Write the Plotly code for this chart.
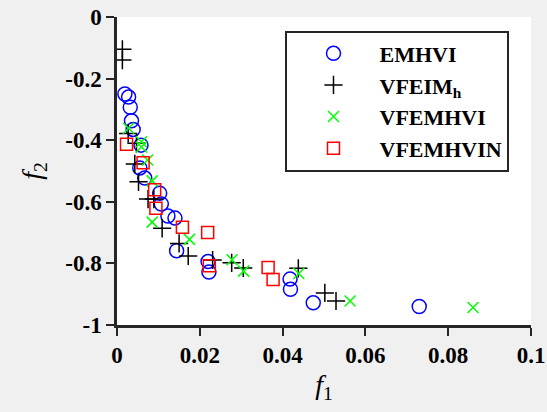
import plotly.graph_objects as go

# EMHVI (blue circles)
emhvi_f1 = [0.0019, 0.0028, 0.0032, 0.0035, 0.0039, 0.0058, 0.0055, 0.0067, 0.0103, 0.0107,
            0.0123, 0.0140, 0.0144, 0.0220, 0.0222, 0.0418, 0.0419, 0.0474, 0.0730]
emhvi_f2 = [-0.250, -0.260, -0.293, -0.337, -0.365, -0.416, -0.490, -0.523, -0.572, -0.607,
            -0.646, -0.653, -0.759, -0.794, -0.828, -0.851, -0.884, -0.928, -0.940]

# VFEIM_h (black plus)
vfeim_f1 = [0.0013, 0.0013, 0.0027, 0.0047, 0.0043, 0.0052, 0.0075, 0.0089, 0.0109, 0.0150,
            0.0172, 0.0231, 0.0277, 0.0305, 0.0438, 0.0502, 0.0529]
vfeim_f2 = [-0.105, -0.140, -0.378, -0.410, -0.477, -0.535, -0.591, -0.591, -0.686, -0.735,
            -0.776, -0.789, -0.798, -0.815, -0.816, -0.896, -0.922]

# VFEMHVI (green x)
vfemhvi_f1 = [0.0028, 0.0059, 0.0059, 0.0074, 0.0085, 0.0085, 0.0175, 0.0278, 0.0306, 0.0439,
              0.0563, 0.0860]
vfemhvi_f2 = [-0.361, -0.405, -0.422, -0.464, -0.532, -0.666, -0.722, -0.788, -0.825, -0.833,
              -0.922, -0.943]

# VFEMHVIN (red squares)
vfemhvin_f1 = [0.0023, 0.0063, 0.0091, 0.0094, 0.0158, 0.0219, 0.0223, 0.0365, 0.0377]
vfemhvin_f2 = [-0.413, -0.473, -0.561, -0.621, -0.683, -0.700, -0.808, -0.813, -0.852]

x_ticks = [0, 0.02, 0.04, 0.06, 0.08, 0.1]
x_ticktext = ["0", "0.02", "0.04", "0.06", "0.08", "0.1"]
y_ticks = [-1, -0.8, -0.6, -0.4, -0.2, 0]
y_ticktext = ["-1", "-0.8", "-0.6", "-0.4", "-0.2", "0"]

serif = "Liberation Serif"

fig = go.Figure()
fig.add_trace(go.Scatter(x=emhvi_f1, y=emhvi_f2, mode="markers", name="EMHVI",
                         marker=dict(symbol="circle-open", size=14, color="#0000ff",
                                     line=dict(width=1.5, color="#0000ff"))))
fig.add_trace(go.Scatter(x=vfeim_f1, y=vfeim_f2, mode="markers", name="VFEIM<sub>h</sub>",
                         marker=dict(symbol="cross-thin-open", size=13, color="#000000",
                                     line=dict(width=1.5, color="#000000"))))
fig.add_trace(go.Scatter(x=vfemhvi_f1, y=vfemhvi_f2, mode="markers", name="VFEMHVI",
                         marker=dict(symbol="x-thin-open", size=11, color="#00ff00",
                                     line=dict(width=1.5, color="#00ff00"))))
fig.add_trace(go.Scatter(x=vfemhvin_f1, y=vfemhvin_f2, mode="markers", name="VFEMHVIN",
                         marker=dict(symbol="square-open", size=12, color="#ff0000",
                                     line=dict(width=1.5, color="#ff0000"))))

fig.update_layout(
    width=547, height=412,
    paper_bgcolor="#f0f0f0", plot_bgcolor="#ffffff",
    margin=dict(l=117, r=16, t=17, b=87),
    font=dict(family=serif, color="#000000"),
    legend=dict(x=0.407, y=0.956, xanchor="left", yanchor="top",
                bgcolor="#ffffff", bordercolor="#262626", borderwidth=2,
                font=dict(family=serif, size=22, weight="bold", color="#000000"),
                itemwidth=82, tracegroupgap=0),
    xaxis=dict(range=[0, 0.1], tickvals=x_ticks, ticktext=["<b>%s</b>" % t for t in x_ticktext],
               automargin=False,
               showgrid=False, zeroline=False, showline=True, linecolor="#262626", linewidth=2.5,
               ticks="outside", ticklen=8, tickwidth=2, tickcolor="#262626",
               tickfont=dict(family=serif, size=23, color="#000000"),
               title=dict(text="<i>f</i><sub>1</sub>", font=dict(family=serif, size=28), standoff=8)),
    yaxis=dict(range=[-1, 0], tickvals=y_ticks, ticktext=["<b>%s</b>" % t for t in y_ticktext],
               automargin=False,
               showgrid=False, zeroline=False, showline=True, linecolor="#262626", linewidth=2.5,
               ticks="outside", ticklen=8, tickwidth=2, tickcolor="#262626",
               tickfont=dict(family=serif, size=23, color="#000000"),
               title=dict(text="<i>f</i><sub>2</sub>", font=dict(family=serif, size=28), standoff=16)),
)

fig.write_html("out.html", config={"displayModeBar": False},
               post_script="document.body.style.margin='0';document.body.style.padding='0';")
